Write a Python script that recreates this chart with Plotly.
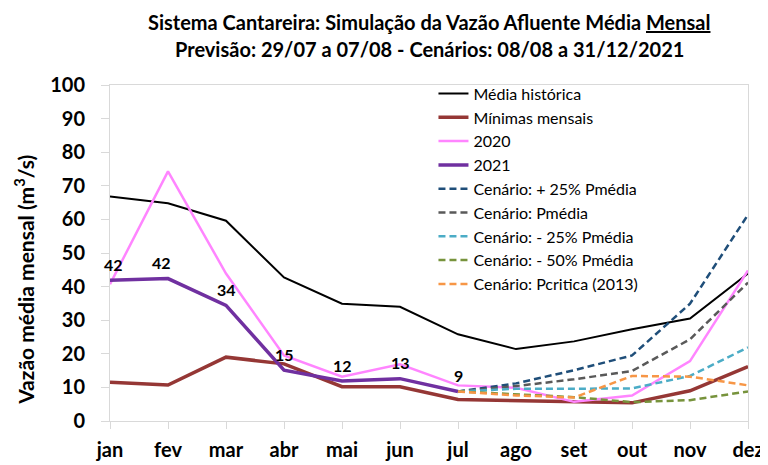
import plotly.graph_objects as go

months = ["jan", "fev", "mar", "abr", "mai", "jun", "jul", "ago", "set", "out", "nov", "dez"]
media_historica = [66.8, 64.8, 59.6, 42.7, 34.9, 34.0, 25.8, 21.4, 23.7, 27.3, 30.5, 43.9]
minimas_mensais = [11.5, 10.7, 19.0, 17.0, 10.2, 10.2, 6.4, 6.1, 5.7, 5.4, 9.0, 16.2]
ano_2020 = [40.7, 74.3, 43.9, 19.5, 13.2, 16.9, 10.6, 9.9, 5.7, 7.6, 17.8, 44.8]
ano_2021 = [41.9, 42.4, 34.4, 15.1, 11.9, 12.6, 8.8]
labels_2021 = ["42", "42", "34", "15", "12", "13", "9"]
scen_months = ["jul", "ago", "set", "out", "nov", "dez"]
cen_mais25 = [8.8, 11.2, 15.1, 19.5, 34.9, 61.4]
cen_pmedia = [8.8, 10.4, 12.4, 14.9, 24.3, 41.2]
cen_menos25 = [8.8, 9.6, 9.6, 9.7, 13.4, 21.9]
cen_menos50 = [8.8, 8.0, 7.1, 5.6, 6.2, 8.8]
cen_pcritica = [8.8, 7.6, 7.0, 13.4, 13.2, 10.6]

FONT = "Lato"
fig = go.Figure()

def solid(x, y, name, color, width):
    fig.add_trace(go.Scatter(x=x, y=y, name=name, mode="lines",
                             line=dict(color=color, width=width)))

def dashed(x, y, name, color):
    fig.add_trace(go.Scatter(x=x, y=y, name=name, mode="lines",
                             line=dict(color=color, width=2.5, dash="7px,4px")))

solid(months, media_historica, "Média histórica", "#000000", 2)
solid(months, minimas_mensais, "Mínimas mensais", "#953735", 3.5)
solid(months, ano_2020, "2020", "#FF85FF", 2.5)
solid(months[:len(ano_2021)], ano_2021, "2021", "#7030A0", 3.5)
dashed(scen_months, cen_mais25, "Cenário: + 25% Pmédia", "#1F4E79")
dashed(scen_months, cen_pmedia, "Cenário: Pmédia", "#595959")
dashed(scen_months, cen_menos25, "Cenário: - 25% Pmédia", "#4BACC6")
dashed(scen_months, cen_menos50, "Cenário: - 50% Pmédia", "#77933C")
dashed(scen_months, cen_pcritica, "Cenário: Pcritica (2013)", "#F79646")

for i, (v, t) in enumerate(zip(ano_2021, labels_2021)):
    fig.add_annotation(x=months[i], y=v, text="<b>%s</b>" % t, showarrow=False,
                       xanchor="center", yanchor="middle",
                       yshift=16, xshift=(3 if i == 0 else (-7 if i == 1 else 0)),
                       font=dict(family=FONT, size=16, color="#000000"))

fig.add_annotation(xref="paper", yref="paper", x=0.5, y=1.187, yanchor="middle",
                   text="<b>Sistema Cantareira: Simulação da Vazão Afluente Média <u>Mensal</u></b>",
                   showarrow=False, font=dict(family=FONT, size=20, color="#000000"))
fig.add_annotation(xref="paper", yref="paper", x=0.5, y=1.106, yanchor="middle",
                   text="<b>Previsão: 29/07 a 07/08 - Cenários: 08/08 a 31/12/2021</b>",
                   showarrow=False, font=dict(family=FONT, size=20, color="#000000"))

# y-axis title (placed as rotated text, centred where the reference has it)
fig.add_annotation(xref="paper", yref="paper", x=-0.116, y=0.42, xshift=-12,
                   xanchor="center", yanchor="middle", textangle=-90,
                   text="<b>Vazão média mensal (m<sup>3</sup>/s)</b>", showarrow=False,
                   font=dict(family=FONT, size=21, color="#000000"))

fig.update_layout(
    width=768, height=465,
    margin=dict(l=102, r=28, t=77, b=45),
    paper_bgcolor="white", plot_bgcolor="white",
    font=dict(family=FONT, color="#000000"),
    showlegend=True,
    legend=dict(x=0.507, y=1.025, xanchor="left", yanchor="top",
                bgcolor="rgba(0,0,0,0)", font=dict(family=FONT, size=16),
                tracegroupgap=0),
    xaxis=dict(type="category", categoryorder="array", categoryarray=months,
               range=[0, 11], showgrid=False, showline=True, mirror=True,
               linecolor="#D9D9D9", linewidth=1, ticks="outside", ticklen=7,
               tickcolor="#D9D9D9", ticklabelstandoff=4,
               tickfont=dict(family=FONT, size=20, color="#000000", weight="bold")),
    yaxis=dict(range=[0, 100], dtick=10, showgrid=False, zeroline=False,
               showline=True, mirror=True, linecolor="#D9D9D9", linewidth=1,
               ticks="outside", ticklen=8, tickcolor="#D9D9D9", ticklabelstandoff=12,
               tickfont=dict(family=FONT, size=20, color="#000000", weight="bold")),
)

fig.write_html("out.html")
